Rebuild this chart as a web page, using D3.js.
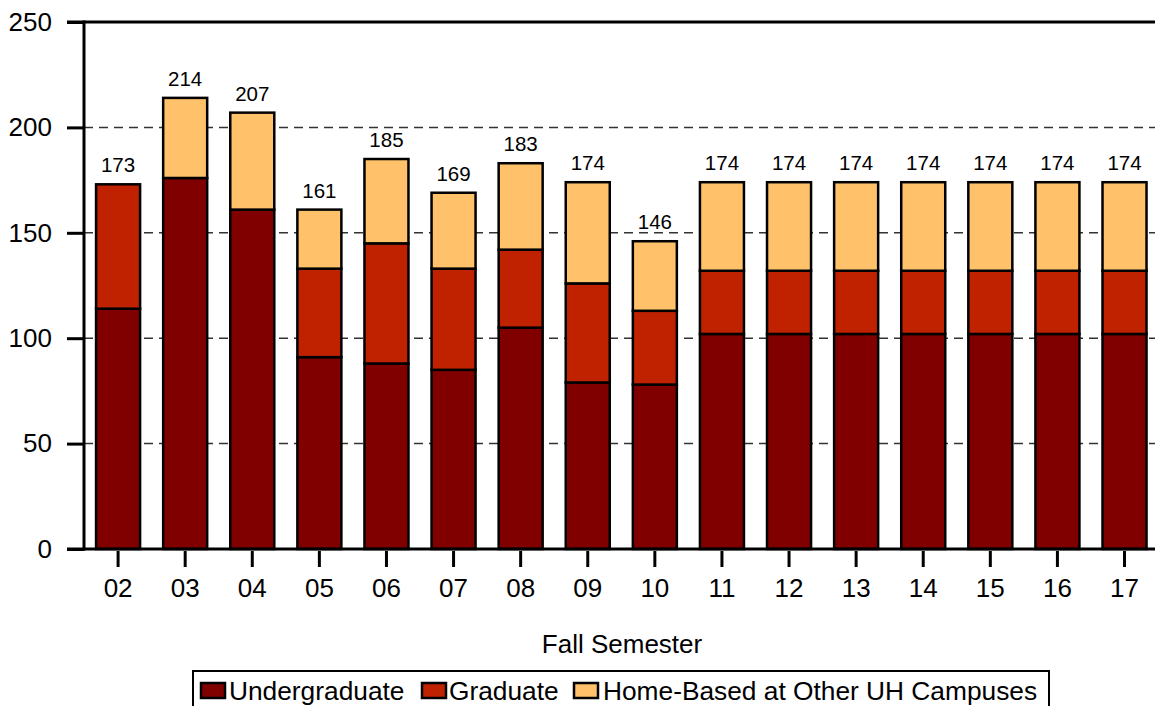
<!DOCTYPE html>
<html><head><meta charset="utf-8">
<script src="https://cdn.jsdelivr.net/npm/d3@7"></script>
<style>body{margin:0;background:#fff}svg{display:block}text{font-family:"Liberation Sans",Arial,sans-serif;fill:#000}</style>
</head><body>
<svg id="c" width="1155" height="706"></svg>
<script>
const categories = ["02","03","04","05","06","07","08","09","10","11","12","13","14","15","16","17"];
const undergraduate = [114,176,161,91,88,85,105,79,78,102,102,102,102,102,102,102];
const graduate = [59,0,0,42,57,48,37,47,35,30,30,30,30,30,30,30];
const homeBased = [0,38,46,28,40,36,41,48,33,42,42,42,42,42,42,42];
const yTicks = [0,50,100,150,200,250];
const seriesNames = ["Undergraduate","Graduate","Home-Based at Other UH Campuses"];
const colors = ["#800000","#C02200","#FFC26B"];

const svg = d3.select("#c");
const x = d3.scaleBand().domain(categories).range([84,1158.6]).paddingInner(0.344).paddingOuter(0.18);
const y = d3.scaleLinear().domain([0,250]).range([549,22]);

const rows = categories.map((c,i)=>({cat:c,u:undergraduate[i],g:graduate[i],h:homeBased[i]}));
const stack = d3.stack().keys(["u","g","h"])(rows);

// gridlines
svg.append("g").selectAll("line").data(yTicks.filter(t=>t>0&&t<250)).join("line")
  .attr("x1",84).attr("x2",1155).attr("y1",d=>y(d)).attr("y2",d=>y(d))
  .attr("stroke","#333").attr("stroke-width",1.5).attr("stroke-dasharray","9,6");

// bars
stack.forEach((s,si)=>{
  svg.append("g").selectAll("rect").data(s.filter(d=>d[1]-d[0]>0)).join("rect")
    .attr("x",d=>x(d.data.cat)).attr("width",x.bandwidth())
    .attr("y",d=>y(d[1])).attr("height",d=>y(d[0])-y(d[1]))
    .attr("fill",colors[si]).attr("stroke","#000").attr("stroke-width",2.5);
});

// totals
svg.append("g").selectAll("text").data(rows).join("text")
  .attr("x",d=>x(d.cat)+x.bandwidth()/2).attr("y",d=>y(d.u+d.g+d.h)-12)
  .attr("text-anchor","middle").attr("font-size",20.5).text(d=>d.u+d.g+d.h);

// y axis
const ya = svg.append("g").attr("transform","translate(84,0)")
  .call(d3.axisLeft(y).tickValues(yTicks).tickSize(17).tickPadding(15));
ya.select(".domain").remove();
ya.selectAll(".tick line").attr("stroke","#000").attr("stroke-width",3);
ya.selectAll(".tick text").attr("font-size",26).attr("font-family","Liberation Sans, Arial, sans-serif").attr("fill","#000");
svg.append("line").attr("x1",84).attr("x2",84).attr("y1",20.5).attr("y2",550.5).attr("stroke","#000").attr("stroke-width",3);
svg.append("line").attr("x1",67).attr("x2",1155).attr("y1",y(250)).attr("y2",y(250)).attr("stroke","#000").attr("stroke-width",3);

// x axis
const xa = svg.append("g").attr("transform","translate(0,551)")
  .call(d3.axisBottom(x).tickSize(16).tickPadding(12));
xa.select(".domain").remove();
xa.selectAll(".tick line").attr("stroke","#000").attr("stroke-width",3);
xa.selectAll(".tick text").attr("font-size",26).attr("font-family","Liberation Sans, Arial, sans-serif").attr("fill","#000");
svg.append("line").attr("x1",67).attr("x2",1155).attr("y1",y(0)).attr("y2",y(0)).attr("stroke","#000").attr("stroke-width",3);

svg.append("text").attr("x",622).attr("y",653).attr("text-anchor","middle").attr("font-size",26).text("Fall Semester");

// legend
svg.append("rect").attr("x",193).attr("y",671).attr("width",856).attr("height",50).attr("fill","none").attr("stroke","#000").attr("stroke-width",2);
const legSwX = [201,422,574];
const legTxX = [229,449,603];
seriesNames.forEach((n,i)=>{
  svg.append("rect").attr("x",legSwX[i]).attr("y",683).attr("width",24).attr("height",15)
    .attr("fill",colors[i]).attr("stroke","#000").attr("stroke-width",2.5);
  svg.append("text").attr("x",legTxX[i]).attr("y",700).attr("font-size",26.3).text(n);
});
</script>
</body></html>
